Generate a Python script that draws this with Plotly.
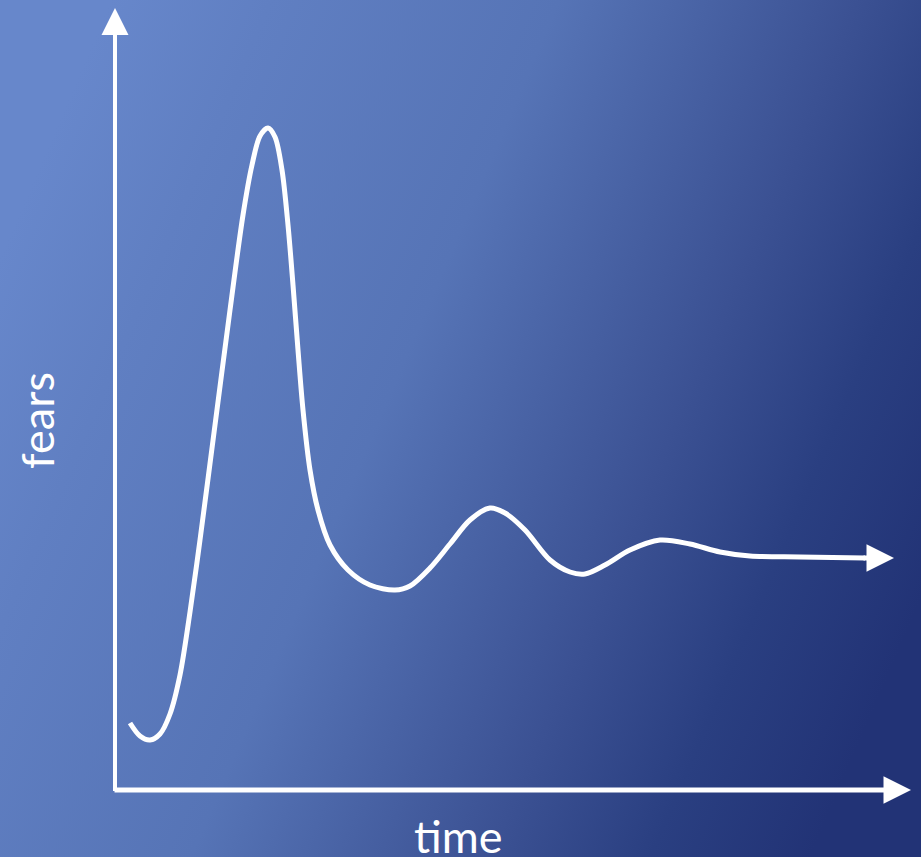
import base64
import plotly.graph_objects as go

# ---- data (time / fears in arbitrary units, origin at axes corner) ----
time = [1.5, 2.5, 3.5, 4.5, 5.5, 6.5, 7.5, 8.5, 10.0, 11.5, 12.8, 13.7, 14.5,
        15.3, 16.0, 16.7, 17.3, 17.8, 18.3, 18.8, 19.5, 20.3, 21.5, 23.3, 25.5,
        28.0, 29.5, 31.5, 33.5, 35.5, 37.5, 39.0, 41.0, 43.5, 45.5, 47.0, 49.0,
        51.5, 54.5, 57.5, 60.5, 63.5, 68.5, 75.0]
fears = [6.7, 5.4, 5.0, 5.6, 7.6, 11.5, 17.8, 25.0, 36.5, 48.0, 57.5, 62.5, 65.4,
         66.2, 65.3, 62.0, 56.5, 50.5, 44.0, 38.0, 32.0, 28.0, 24.5, 22.0, 20.5,
         20.0, 20.4, 22.2, 24.6, 27.0, 28.2, 27.7, 26.0, 23.0, 21.8, 21.6, 22.5,
         24.0, 25.0, 24.6, 23.8, 23.4, 23.3, 23.2]
curve_tip = 77.9
x_axis_tip = 79.6
y_axis_tip = 78.2
x_label = "time"
y_label = "fears"

# ---- background gradient as an SVG image ----
svg = (
    '<svg xmlns="http://www.w3.org/2000/svg" width="921" height="857" '
    'viewBox="0 0 921 857" preserveAspectRatio="none">'
    '<defs><linearGradient id="g" x1="0" y1="0.3" x2="1" y2="0.7">'
    '<stop offset="0" stop-color="#6787cb"/>'
    '<stop offset="0.15" stop-color="#607fc2"/>'
    '<stop offset="0.42" stop-color="#5674b6"/>'
    '<stop offset="0.7" stop-color="#3b5193"/>'
    '<stop offset="0.85" stop-color="#2a3f81"/>'
    '<stop offset="1" stop-color="#223376"/>'
    '</linearGradient></defs>'
    '<rect width="921" height="857" fill="url(#g)"/></svg>'
)
src = "data:image/svg+xml;base64," + base64.b64encode(svg.encode()).decode()

fig = go.Figure()
fig.add_trace(go.Scatter(
    x=time, y=fears, mode="lines",
    line=dict(color="white", width=5, shape="spline", smoothing=0.9),
    hoverinfo="skip", showlegend=False,
))

anns = []
# curve end arrow
anns.append(dict(x=curve_tip, y=fears[-1], ax=time[-1] - 0.3, ay=fears[-1],
                 xref="x", yref="y", axref="x", ayref="y", text="",
                 showarrow=True, arrowhead=2, arrowsize=1.1, arrowwidth=5,
                 arrowcolor="white"))
# x axis
anns.append(dict(x=x_axis_tip, y=0, ax=-0.2, ay=0,
                 xref="x", yref="y", axref="x", ayref="y", text="",
                 showarrow=True, arrowhead=2, arrowsize=1.1, arrowwidth=5,
                 arrowcolor="white"))
# y axis
anns.append(dict(x=0, y=y_axis_tip, ax=0, ay=-0.25,
                 xref="x", yref="y", axref="x", ayref="y", text="",
                 showarrow=True, arrowhead=2, arrowsize=1.35, arrowwidth=4,
                 arrowcolor="white"))
# labels
anns.append(dict(x=-7.8, y=36.9, xref="x", yref="y", text=y_label, textangle=-90,
                 showarrow=False, font=dict(family="Lato", size=45, color="white"),
                 xanchor="center", yanchor="middle"))
anns.append(dict(x=34.3, y=-4.6, xref="x", yref="y", text=x_label,
                 showarrow=False, font=dict(family="Lato", size=45, color="white"),
                 xanchor="center", yanchor="middle"))

fig.update_layout(
    width=921, height=857,
    margin=dict(l=0, r=0, t=0, b=0),
    paper_bgcolor="#4a66a8", plot_bgcolor="rgba(0,0,0,0)",
    images=[dict(source=src, xref="paper", yref="paper", x=0, y=1,
                 sizex=1, sizey=1, sizing="stretch", xanchor="left",
                 yanchor="top", layer="below")],
    xaxis=dict(range=[-11.5, 80.6], visible=False, fixedrange=True),
    yaxis=dict(range=[-6.7, 79.0], visible=False, fixedrange=True),
    annotations=anns,
    showlegend=False,
)

fig.write_html("out.html", config={"displayModeBar": False},
               post_script="document.body.style.margin='0';"
                           "document.body.style.overflow='hidden';")
